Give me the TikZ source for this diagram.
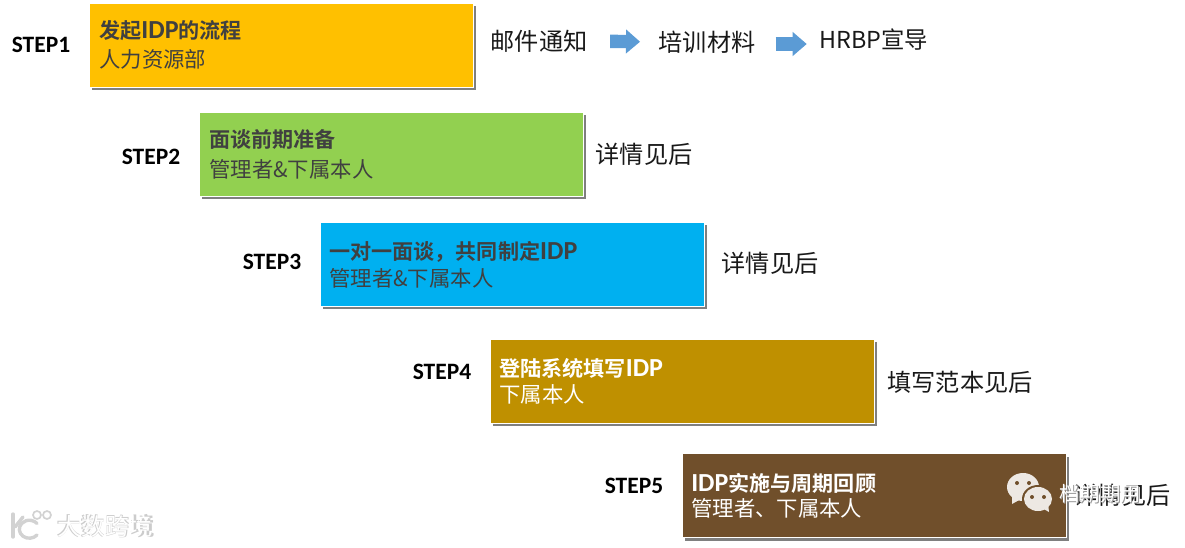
\documentclass[tikz,border=0pt]{standalone}
\usepackage{fontspec}
\setmainfont{Noto Sans CJK SC}[BoldFont={Noto Sans CJK SC Bold}]
\newfontfamily\stepfont{Carlito}
\newcommand{\idptext}{{\stepfont\fontsize{18.5}{18}\selectfont IDP}}
\usetikzlibrary{positioning,calc,arrows.meta,shadows}

\definecolor{boxorange}{HTML}{FFC000}
\definecolor{boxgreen}{HTML}{92D050}
\definecolor{boxblue}{HTML}{00B0F0}
\definecolor{boxgold}{HTML}{BF9000}
\definecolor{boxbrown}{HTML}{704F2B}
\definecolor{inkdark}{HTML}{404040}
\definecolor{arrowblue}{HTML}{5B9BD5}
\definecolor{bubble}{HTML}{EDE8E3}

\begin{document}
\begin{tikzpicture}[
        x=0.025cm, y=-0.025cm,
        stepbox/.style={draw=white, line width=0.5pt, minimum width=9.6cm, minimum height=2.1cm, inner sep=0pt,
            drop shadow={shadow xshift=2pt, shadow yshift=-2.2pt, fill=black, opacity=0.5}},
        steplabel/.style={font=\stepfont\bfseries\fontsize{16.7}{18}\selectfont, text=black},
        boxtitle/.style={anchor=west, inner sep=0pt, font=\bfseries\fontsize{15}{18}\selectfont},
        boxsub/.style={anchor=west, inner sep=0pt, font=\fontsize{15.2}{18}\selectfont},
        note/.style={inner sep=0pt, font=\fontsize{17.2}{20}\selectfont, text=black!90},
        blockarrow/.style={-{Triangle[length=10pt, width=16.5pt]}, line width=9.5pt, arrowblue}
    ]
        \useasboundingbox (0,0) rectangle (1185,547);

        % Step boxes
        \node[stepbox, fill=boxorange] (box1) at (281, 45) {};
        \node[stepbox, fill=boxgreen] (box2) at (391, 154) {};
        \node[stepbox, fill=boxblue] (box3) at (512, 264) {};
        \node[stepbox, fill=boxgold] (box4) at (682.5, 381) {};
        \node[stepbox, fill=boxbrown] (box5) at (874, 495.5) {};

        % Step labels
        \node[steplabel] (step1) at (41, 45) {STEP1};
        \node[steplabel] (step2) at (151, 157) {STEP2};
        \node[steplabel] (step3) at (272, 262) {STEP3};
        \node[steplabel] (step4) at (442, 372) {STEP4};
        \node[steplabel] (step5) at (634, 486) {STEP5};

        % Box texts
        \node[boxtitle, text=inkdark] (title1) at (99, 31) {发起\idptext 的流程};
        \node[boxsub, text=inkdark] (sub1) at (99, 59) {人力资源部};
        \node[boxtitle, text=inkdark] (title2) at (209, 139) {面谈前期准备};
        \node[boxsub, text=inkdark] (sub2) at (209, 169) {管理者\&下属本人};
        \node[boxtitle, text=inkdark] (title3) at (329, 252) {一对一面谈，共同制定\idptext};
        \node[boxsub, text=inkdark] (sub3) at (329, 278) {管理者\&下属本人};
        \node[boxtitle, text=white] (title4) at (499, 368) {登陆系统填写\idptext};
        \node[boxsub, text=white] (sub4) at (499, 394) {下属本人};
        \node[boxtitle, text=white] (title5) at (691, 483) {\idptext 实施与周期回顾};
        \node[boxsub, text=white] (sub5) at (691, 508) {管理者、下属本人};

        % Notes beside the boxes
        \node[note] (mail) at (539, 41) {邮件通知};
        \node[note] (material) at (707, 42) {培训材料};
        \node[note, font=\fontsize{16.6}{20}\selectfont] (hrbp) at (874, 40) {HRBP宣导};
        \node[note] (detail2) at (644, 154) {详情见后};
        \node[note] (detail3) at (770, 263) {详情见后};
        \node[note] (sample) at (960, 382) {填写范本见后};
        \node[note] (detail5) at (1122, 495) {详情见后};

        \draw[blockarrow, shorten <=16pt, shorten >=13pt] (mail.east) -- (material.west);
        \draw[blockarrow, shorten <=0pt, shorten >=9pt] ($(material.east)+(20,2)$) -- ($(hrbp.west)+(0,4)$);

        % Chat mark over the last box
        \fill[bubble] (1023,487) ellipse (16 and 14);
        \fill[bubble] (1012,496) -- (1012,504) -- (1021,499) -- cycle;
        \fill[boxbrown] (1038,499) ellipse (16 and 14);
        \fill[bubble] (1038,499) ellipse (14 and 12);
        \fill[bubble] (1042,508) -- (1049,512) -- (1048,503) -- cycle;
        \foreach \dotx/\doty in {1017/483, 1029/483, 1032/497, 1044/497}
            \fill[boxbrown] (\dotx,\doty) circle (2);
        \node[inner sep=0pt, text=gray!80, font=\fontsize{14.5}{18}\selectfont] (markback) at (1101, 495) {档期期用};
        \node[inner sep=0pt, text=white, font=\fontsize{14.5}{18}\selectfont] (mark) at (1100, 494) {档期期用};

        % Corner mark
        \begin{scope}[gray!35, line width=2.4pt, line cap=round]
            \draw (13,514) -- (13,537);
            \draw (23,517) -- (15,527);
            \draw (37,535) arc (40:320:10 and 9);
            \draw[line width=1.2pt] (37,515) circle (4);
            \draw[line width=1.2pt] (47,515) circle (4);
        \end{scope}
        \node[inner sep=0pt, text=gray!40, font=\bfseries\fontsize{17.5}{20}\selectfont] (cornerback) at (105.5, 526.5) {大数跨境};
        \node[inner sep=0pt, text=white, font=\fontsize{17}{20}\selectfont] (corner) at (105, 526) {大数跨境};
    \end{tikzpicture}
\end{document}
